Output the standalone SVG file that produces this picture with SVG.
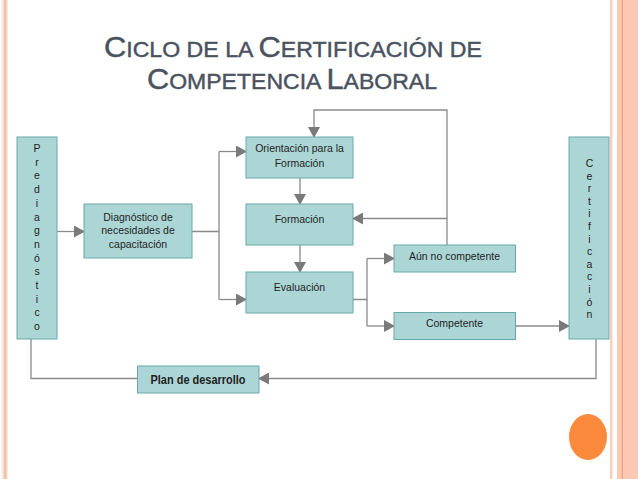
<svg xmlns="http://www.w3.org/2000/svg" width="638" height="479" viewBox="0 0 638 479">
<style>
.box{fill:#acd6d6;stroke:#6aa8a8;stroke-width:1}
.t{font-family:"Liberation Sans",Arial,sans-serif;font-size:10.5px;fill:#1e1e1e;text-anchor:middle}
.v{font-family:"Liberation Sans",Arial,sans-serif;font-size:10.5px;fill:#1e1e1e;text-anchor:middle}
.pl{font-family:"Liberation Sans Narrow","Liberation Sans",Arial,sans-serif;font-size:12.5px;font-weight:bold;fill:#1e1e1e;text-anchor:middle}
.ttl{font-family:"Liberation Sans",Arial,sans-serif;fill:#4a5260;stroke:#4a5260;stroke-width:0.45;text-anchor:middle}
.b{font-size:30px}
.s{font-size:22.5px}
.c{fill:none;stroke:#8a8a8a;stroke-width:1.3}
</style>
<defs>
<marker id="ah" markerWidth="11" markerHeight="12" refX="10" refY="6" orient="auto" markerUnits="userSpaceOnUse">
<path d="M0,0 L11,6 L0,12 Z" fill="#7a7a7a"/>
</marker>
</defs>
<rect width="638" height="479" fill="#ffffff"/>
<g id="page-frame">
<rect x="1" y="0" width="1.2" height="479" fill="#fbe6dc"/>
<rect x="3" y="0" width="4.5" height="479" fill="#f6d2c3"/>
<rect x="4.5" y="0" width="1.5" height="479" fill="#efbba8"/>
<rect x="610" y="0" width="2.5" height="479" fill="#f8d0c0"/>
<rect x="617" y="0" width="4.5" height="479" fill="#f9c9b6"/>
<rect x="621.5" y="0" width="1.6" height="479" fill="#f2a07f"/>
<rect x="623.1" y="0" width="15" height="479" fill="#fdc8b3"/>
<ellipse cx="588" cy="437" rx="19" ry="23" fill="#fb8a3c"/>
</g>
<g id="title">
<text class="ttl" x="293" y="57" textLength="378" lengthAdjust="spacingAndGlyphs"><tspan class="b">C</tspan><tspan class="s">ICLO DE LA </tspan><tspan class="b">C</tspan><tspan class="s">ERTIFICACIÓN DE</tspan></text>
<text class="ttl" x="292" y="89" textLength="290" lengthAdjust="spacingAndGlyphs"><tspan class="b">C</tspan><tspan class="s">OMPETENCIA </tspan><tspan class="b">L</tspan><tspan class="s">ABORAL</tspan></text>
</g>
<g id="connectors">
<path class="c" d="M57,231.5 H84" marker-end="url(#ah)"/>
<path class="c" d="M192,231.5 H219 M219,151.5 V299.5"/>
<path class="c" d="M219,151.5 H246" marker-end="url(#ah)"/>
<path class="c" d="M219,299.5 H246" marker-end="url(#ah)"/>
<path class="c" d="M300,178 V204" marker-end="url(#ah)"/>
<path class="c" d="M300,245 V272" marker-end="url(#ah)"/>
<path class="c" d="M447,245 V110 H314 V137" marker-end="url(#ah)"/>
<path class="c" d="M447,218.5 H353" marker-end="url(#ah)"/>
<path class="c" d="M353,299.5 H367 M367,258.5 V326"/>
<path class="c" d="M367,258.5 H394" marker-end="url(#ah)"/>
<path class="c" d="M367,326 H394" marker-end="url(#ah)"/>
<path class="c" d="M516,326 H569" marker-end="url(#ah)"/>
<path class="c" d="M596,339 V378.5 H259" marker-end="url(#ah)"/>
<path class="c" d="M31,339 V378.5 H137"/>
</g>
<g id="prediagnostico">
<rect class="box" x="17" y="137" width="40" height="202"/>
<text class="v" x="37"><tspan x="37" y="152">P</tspan><tspan x="37" y="165.7">r</tspan><tspan x="37" y="179.4">e</tspan><tspan x="37" y="193.1">d</tspan><tspan x="37" y="206.8">i</tspan><tspan x="37" y="220.5">a</tspan><tspan x="37" y="234.2">g</tspan><tspan x="37" y="247.9">n</tspan><tspan x="37" y="261.6">ó</tspan><tspan x="37" y="275.3">s</tspan><tspan x="37" y="289">t</tspan><tspan x="37" y="302.7">i</tspan><tspan x="37" y="316.4">c</tspan><tspan x="37" y="330.1">o</tspan></text>
</g>
<g id="diagnostico">
<rect class="box" x="84" y="204" width="108" height="54"/>
<text class="t" x="138"><tspan x="138" y="220.5">Diagnóstico de</tspan><tspan x="138" y="234">necesidades de</tspan><tspan x="138" y="247.5">capacitación</tspan></text>
</g>
<g id="orientacion">
<rect class="box" x="246" y="137" width="107" height="41"/>
<text class="t" x="299.5"><tspan x="299.5" y="152">Orientación para la</tspan><tspan x="299.5" y="166.5">Formación</tspan></text>
</g>
<g id="formacion">
<rect class="box" x="246" y="204" width="107" height="41"/>
<text class="t" x="299.5" y="223">Formación</text>
</g>
<g id="evaluacion">
<rect class="box" x="246" y="272" width="107" height="41"/>
<text class="t" x="299.5" y="290.5">Evaluación</text>
</g>
<g id="aun-no-competente">
<rect class="box" x="394" y="245" width="121.5" height="27"/>
<text class="t" x="454.5" y="260">Aún no competente</text>
</g>
<g id="competente">
<rect class="box" x="394" y="312.5" width="121.5" height="27"/>
<text class="t" x="454.5" y="326.5">Competente</text>
</g>
<g id="certificacion">
<rect class="box" x="569" y="137" width="40" height="202"/>
<text class="v" x="589.5"><tspan x="589.5" y="167">C</tspan><tspan x="589.5" y="179.6">e</tspan><tspan x="589.5" y="192.2">r</tspan><tspan x="589.5" y="204.8">t</tspan><tspan x="589.5" y="217.4">i</tspan><tspan x="589.5" y="230">f</tspan><tspan x="589.5" y="242.6">i</tspan><tspan x="589.5" y="255.2">c</tspan><tspan x="589.5" y="267.8">a</tspan><tspan x="589.5" y="280.4">c</tspan><tspan x="589.5" y="293">i</tspan><tspan x="589.5" y="305.6">ó</tspan><tspan x="589.5" y="318.2">n</tspan></text>
</g>
<g id="plan-de-desarrollo">
<rect class="box" x="137.5" y="366" width="121.5" height="27"/>
<text class="pl" x="198" y="383.5" textLength="95" lengthAdjust="spacingAndGlyphs">Plan de desarrollo</text>
</g>
</svg>
